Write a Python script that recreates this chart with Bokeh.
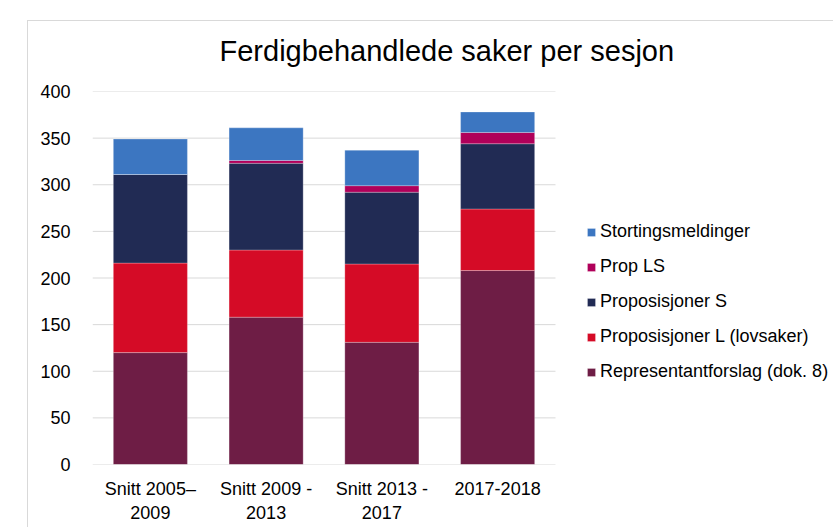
from bokeh.plotting import figure
from bokeh.models import Range1d, Legend, LegendItem, Title, InlineStyleSheet, FixedTicker, ColumnDataSource
from bokeh.embed import file_html
from bokeh.resources import INLINE

periods = ["Snitt 2005\u2013\n2009", "Snitt 2009 -\n2013", "Snitt 2013 -\n2017", "2017-2018"]
representantforslag = [120, 158, 131, 208]
proposisjoner_l = [96, 72, 84, 66]
proposisjoner_s = [95, 93, 77, 70]
prop_ls = [0, 3, 7, 12]
stortingsmeldinger = [38, 35, 38, 22]
y_ticks = [0, 50, 100, 150, 200, 250, 300, 350, 400]

series = ["Representantforslag (dok. 8)", "Proposisjoner L (lovsaker)", "Proposisjoner S",
          "Prop LS", "Stortingsmeldinger"]
colors = ["#6E1D45", "#D50B26", "#212B54", "#B0005A", "#3C76C1"]

xpos = [i + 0.5 for i in range(len(periods))]
data = {"x": xpos, series[0]: representantforslag, series[1]: proposisjoner_l,
        series[2]: proposisjoner_s, series[3]: prop_ls, series[4]: stortingsmeldinger}

FONT = "Liberation Sans"
W, H = 830, 525
LEFT, TOP, BOTTOM = 92, 91, 57
CAT_PX = 115.75  # pixel width of one category slot
x_end = (W - LEFT) / CAT_PX

p = figure(x_range=Range1d(0, x_end), y_range=Range1d(0, 400), width=W, height=H,
           output_backend="svg", toolbar_location=None,
           min_border_left=LEFT, min_border_right=0, min_border_top=TOP, min_border_bottom=BOTTOM)
p.outline_line_color = None

# horizontal gridlines only across the category area
p.segment(x0=[0] * len(y_ticks), x1=[len(periods)] * len(y_ticks), y0=y_ticks, y1=y_ticks,
          line_color="#d9d9d9", line_width=1, level="underlay")

renderers = p.vbar_stack(series, x="x", width=0.64, color=colors, source=ColumnDataSource(data),
                         line_color="white", line_width=0.5, line_alpha=0.5)

legend = Legend(items=[LegendItem(label=s, renderers=[r]) for s, r in zip(series, renderers)][::-1],
                location=(494, 82), orientation="vertical")
legend.label_text_font = FONT
legend.label_text_font_size = "18px"
legend.label_text_color = "#000000"
legend.glyph_width = 10
legend.glyph_height = 10
legend.label_height = 20
legend.spacing = 14
legend.label_standoff = 4
legend.padding = 0
legend.margin = 0
legend.border_line_color = None
legend.background_fill_alpha = 0
p.add_layout(legend, "center")

p.title = Title(text="Ferdigbehandlede saker per sesjon", align="left", offset=127,
                text_font=FONT, text_font_size="29px", text_font_style="normal",
                text_color="#000000", standoff=50)

p.yaxis.ticker = FixedTicker(ticks=y_ticks)
p.yaxis.axis_line_color = None
p.yaxis.major_tick_line_color = None
p.yaxis.minor_tick_line_color = None
p.yaxis.major_label_text_font = FONT
p.yaxis.major_label_text_font_size = "18px"
p.yaxis.major_label_text_color = "#000000"
p.yaxis.major_label_standoff = 16

p.xaxis.ticker = FixedTicker(ticks=xpos)
p.xaxis.major_label_overrides = {x: lab for x, lab in zip(xpos, periods)}
p.xaxis.axis_line_color = None
p.xaxis.major_tick_line_color = None
p.xaxis.minor_tick_line_color = None
p.xaxis.major_label_text_font = FONT
p.xaxis.major_label_text_font_size = "18px"
p.xaxis.major_label_text_color = "#000000"
p.xaxis.major_label_standoff = 8

p.xgrid.grid_line_color = None
p.ygrid.grid_line_color = None

p.stylesheets = [InlineStyleSheet(css="""
:host { position: relative; }
:host::after {
  content: ""; position: absolute; left: 27px; top: 20px;
  width: 2000px; height: 2000px; border: 1.5px solid #d9d9d9;
  pointer-events: none; box-sizing: border-box;
}
""")]

open("out.html", "w").write(file_html(p, INLINE))
